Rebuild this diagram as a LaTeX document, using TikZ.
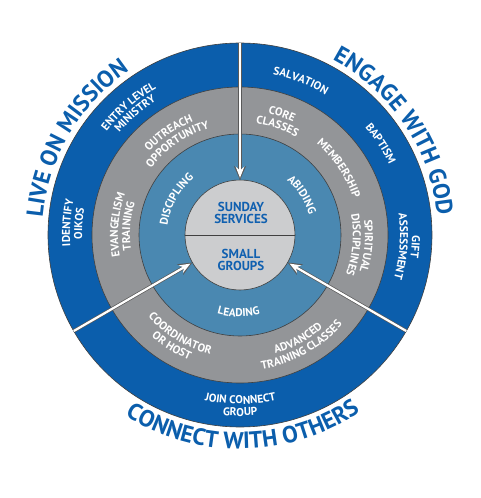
\documentclass[tikz,border=0pt]{standalone}
\usepackage{fontspec}
\setmainfont{PT Sans}
\usetikzlibrary{arrows.meta}
\definecolor{ringblue}{RGB}{11,94,172}
\definecolor{ringgray}{RGB}{147,149,152}
\definecolor{ringsteel}{RGB}{74,136,177}
\definecolor{hubgray}{RGB}{204,205,207}
\definecolor{textblue}{RGB}{16,96,176}
\def\ringfont{\fontsize{11.3}{12}\selectfont\bfseries}
\def\titlefont{\fontsize{23.5}{26}\selectfont\bfseries}
% curved label: font, colour, 1 = letters outward / -1 = letters inward, mid angle, baseline radius, text
% (letters are measured before the picture and collected in \arclabels)
\makeatletter
\newbox\arcbox
\newdimen\arcwd
\def\arcstop{\arcstop}
\def\arclabels{}
\def\arctext#1#2#3#4#5#6{%
  \def\arcfont{#1}\def\arccolor{#2}\def\arcdir{#3}\def\arcrad{#5}%
  \setbox\arcbox\hbox{#1#6}\arcwd=\wd\arcbox
  \pgfmathsetmacro\arccur{#4+(#3)*(\arcwd/2)/#5*180/pi}%
  \arcloop#6\arcstop}
\def\arcloop{\futurelet\arcnext\arccheck}
\def\arccheck{%
  \ifx\arcnext\arcstop\let\arcgo\arcend
  \else\ifx\arcnext\@sptoken\let\arcgo\arcspace
  \else\let\arcgo\arcletter\fi\fi\arcgo}
\def\arcend\arcstop{}
\expandafter\def\expandafter\arcspace\space{\arcletter{\ }}
\def\arcletter#1{%
  \setbox\arcbox\hbox{\arcfont#1}\arcwd=\wd\arcbox
  \pgfmathsetmacro\arcmid{\arccur-(\arcdir)*(\arcwd/2)/\arcrad*180/pi}%
  \pgfmathsetmacro\arcrot{\arcmid-(\arcdir)*90}%
  \edef\arcitem{\noexpand\node[inner sep=0pt,anchor=base,font=\expandafter\noexpand\arcfont,text=\arccolor,rotate=\arcrot] at (\arcmid:\arcrad pt) {\noexpand#1};}%
  \expandafter\g@addto@macro\expandafter\arclabels\expandafter{\arcitem}%
  \pgfmathsetmacro\arccur{\arccur-(\arcdir)*\arcwd/\arcrad*180/pi}%
  \arcloop}
\makeatother
\def\uptext(#1:#2)#3{\arctext{\ringfont}{white}{1}{#1}{#2}{#3}}
\def\downtext(#1:#2)#3{\arctext{\ringfont}{white}{-1}{#1}{#2}{#3}}
\def\titleup(#1:#2)#3{\arctext{\titlefont}{ringblue}{1}{#1}{#2}{#3}}
\def\titledown(#1:#2)#3{\arctext{\titlefont}{ringblue}{-1}{#1}{#2}{#3}}
\tikzset{
  ringline/.style={draw=black!75,line width=0.6pt},
  hubtext/.style={align=center,inner sep=0pt,text=textblue,font=\fontsize{13}{12}\selectfont\bfseries},
  arrowedge/.style={draw=black!65,line width=3.6pt,-{Stealth[length=14pt,width=12pt]}},
  arrowcore/.style={draw=white,line width=2.2pt,shorten >=2.2pt,-{Stealth[length=11pt,width=8.5pt]}},
}
\begin{document}
% outer ring
\uptext(131:169){ENTRY LEVEL}
\uptext(131:158){MINISTRY}
\uptext(176:170){IDENTIFY}
\uptext(176:158){OIKOS}
\uptext(69:164){SALVATION}
\uptext(33:165){BAPTISM}
\uptext(-4:172){GIFT}
\uptext(-4:160){ASSESSMENT}
\downtext(270:169){JOIN CONNECT}
\downtext(270:181){GROUP}
% middle ring
\uptext(125:123){OUTREACH}
\uptext(125:111){OPPORTUNITY}
\uptext(175.5:122){EVANGELISM}
\uptext(175.5:110){TRAINING}
\uptext(71:125){CORE}
\uptext(71:113){CLASSES}
\uptext(34:119){MEMBERSHIP}
\uptext(-5:125){SPIRITUAL}
\uptext(-5:113){DISCIPLINES}
\downtext(238.5:123){COORDINATOR}
\downtext(238.5:135){OR HOST}
\downtext(299:124){ADVANCED}
\downtext(299:136){TRAINING CLASSES}
% inner ring
\uptext(151:73){DISCIPLING}
\uptext(33:72){ABIDING}
\downtext(269:82){LEADING}
% titles
\titleup(149.5:198){LIVE ON MISSION}
\titleup(34:198){ENGAGE WITH GOD}
\titledown(270.5:214){CONNECT WITH OTHERS}
\begin{tikzpicture}[x=1pt,y=1pt]
			%%%%% START %%%%%
			\useasboundingbox (-240,-263) rectangle (241,235);
			
			\draw[ringline,fill=ringblue] (0,0) circle (192pt);
			\draw[ringline,fill=ringgray] (0,0) circle (148pt);
			\draw[ringline,fill=ringsteel] (0,0) circle (101pt);
			\draw[ringline,fill=hubgray] (0,0) circle (55pt);
			\draw[ringline] (180:55pt) -- (0:55pt);
			
			\node[hubtext] (sunday) at (1,22) {SUNDAY\\SERVICES};
			\node[hubtext] (small) at (1,-25) {SMALL\\GROUPS};
			
			% arrows
			\coordinate (topout) at (90:192pt);
			\coordinate (topin) at (90:55pt);
			\coordinate (leftout) at (210:192pt);
			\coordinate (leftin) at (210:55pt);
			\coordinate (rightout) at (330:192pt);
			\coordinate (rightin) at (330:55pt);
			\draw[arrowedge] (topout) -- (topin);
			\draw[arrowcore] (topout) -- (topin);
			\draw[arrowedge] (leftout) -- (leftin);
			\draw[arrowcore] (leftout) -- (leftin);
			\draw[arrowedge] (rightout) -- (rightin);
			\draw[arrowcore] (rightout) -- (rightin);
			
			% ring labels and titles
			\arclabels
			%%%%% END %%%%%
\end{tikzpicture}
\end{document}
